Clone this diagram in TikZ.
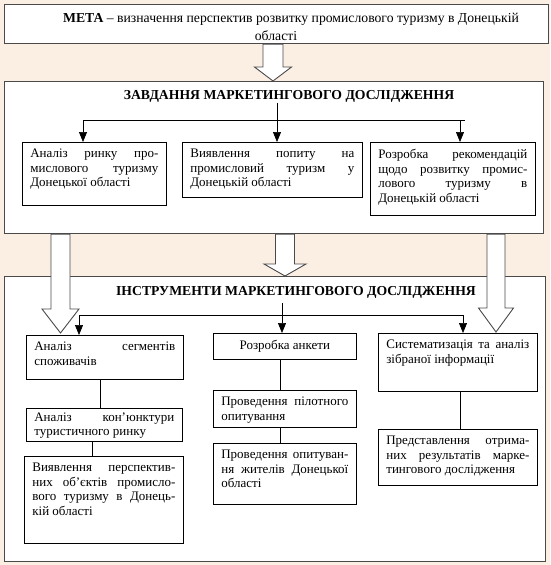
\documentclass[tikz,border=0pt]{standalone}
\usepackage{fontspec}
\setmainfont{Liberation Serif}
\usetikzlibrary{arrows.meta,calc}
\definecolor{bgc}{HTML}{FBEEE2}
\definecolor{framec}{HTML}{4A4A4A}
\newcommand\jl[1]{\makebox[\linewidth][s]{#1}\par}
\newcommand\lastl[1]{#1\par}
\newcommand\ibox[7][7]{\node[ibox, inner ysep=#1pt] (#2) at (#3,#4) {\parbox[t][\dimexpr#6pt-#1pt-#1pt\relax][t]{\dimexpr#5pt-16pt\relax}{\baselineskip=14.5pt #7}};}
\newcommand\barrow[7]{% x, from, to, headlen, shafthalf, headhalf, tipshift
  \draw[blockarr] let \p1=(#2), \p2=(#3) in
    (#1pt-#5pt,\y1) -- (#1pt-#5pt,\y2+#4pt+#7pt) -- (#1pt-#6pt,\y2+#4pt+#7pt) -- (#1pt,\y2+#7pt)
    -- (#1pt+#6pt,\y2+#4pt+#7pt) -- (#1pt+#5pt,\y2+#4pt+#7pt) -- (#1pt+#5pt,\y1) -- cycle;}
\begin{document}
\begin{tikzpicture}[x=1pt,y=-1pt,
  every node/.style={font=\fontsize{13}{14.5}\selectfont},
  obox/.style={draw=framec, fill=white, line width=1.2pt, inner sep=0pt, anchor=north west},
  ibox/.style={draw=black, fill=white, line width=0.7pt, anchor=north west, inner xsep=8pt},
  ttl/.style={font=\fontsize{13.7}{16}\selectfont\bfseries, inner sep=1pt},
  blockarr/.style={draw=framec, fill=white, line width=0.9pt, line join=miter},
  sarr/.style={-{Triangle[width=8pt,length=10pt]}, line width=0.7pt},
  ln/.style={line width=0.7pt}]
\fill[bgc] (0,0) rectangle (550,565);
\useasboundingbox (0,0) rectangle (550,565);
% outer boxes
\node[obox, minimum width=544pt, minimum height=39pt] (meta) at (4,4) {};
\node[align=center, inner sep=0pt, font=\fontsize{13.7}{18}\selectfont] (metat) at (276,26.5)
  {\hspace*{30pt}\textbf{МЕТА} – визначення перспектив розвитку промислового туризму в Донецькій\\ області};
\node[obox, minimum width=539pt, minimum height=152pt] (zav) at (4,81) {};
\node[ttl] (zavt) at (289,96) {ЗАВДАННЯ МАРКЕТИНГОВОГО ДОСЛІДЖЕННЯ};
\node[obox, minimum width=541pt, minimum height=285pt] (ins) at (4,276) {};
\node[ttl] (inst) at (296,292) {ІНСТРУМЕНТИ МАРКЕТИНГОВОГО ДОСЛІДЖЕННЯ};
% task boxes
\ibox{ta}{22}{142}{144}{63}{\jl{Аналіз ринку про-}\jl{мислового туризму}\lastl{Донецької області}}
\ibox{tb}{182}{142}{180}{55}{\jl{Виявлення попиту на}\jl{промисловий туризм у}\lastl{Донецькій області}}
\ibox{tc}{370}{142}{165}{73}{\jl{Розробка рекомендацій}\jl{щодо розвитку промис-}\jl{лового туризму в}\lastl{Донецькій області}}
% instrument boxes
\ibox{segm}{26}{335}{157}{44}{\jl{Аналіз сегментів}\lastl{споживачів}}
\ibox[4]{konj}{26}{408}{156}{33}{\jl{Аналіз кон’юнктури}\lastl{туристичного ринку}}
\ibox{vyav}{24}{456}{159}{87}{\jl{Виявлення перспектив-}\jl{них об’єктів промисло-}\jl{вого туризму в Донець-}\lastl{кій області}}
\ibox{ank}{213}{333}{143}{26}{{\centering Розробка анкети\par}}
\ibox{pilot}{213}{390}{143}{37}{\jl{Проведення пілотного}\lastl{опитування}}
\ibox{opyt}{213}{443}{143}{61}{\jl{Проведення опитуван-}\jl{ня жителів Донецької}\lastl{області}}
\ibox{syst}{378}{333}{159}{58}{\jl{Систематизація та аналіз}\lastl{зібраної інформації}}
\ibox{pred}{378}{429}{159}{56}{\jl{Представлення отрима-}\jl{них результатів марке-}\lastl{тингового дослідження}}
% block arrows
\barrow{273}{meta.south}{zav.north}{14}{10}{18.5}{0}
\barrow{60.5}{zav.south}{segm.north}{24}{9.5}{18.5}{2}
\barrow{285}{zav.south}{ins.north}{12}{9.5}{21}{0}
\barrow{496}{zav.south}{syst.north}{24}{9}{17.5}{1}
% small connectors, tasks
\coordinate (j2) at (277,120);
\coordinate (h2l) at (83,120);
\coordinate (h2r) at (465,120);
\coordinate (h2a) at (460,120);
\draw[sarr] (zavt.south -| j2) -- (j2 |- tb.north);
\draw[ln] (h2l) -- (h2r);
\draw[sarr] (h2l) -- (h2l |- ta.north);
\draw[sarr] (h2a) -- (h2a |- tc.north);
% small connectors, instruments
\coordinate (j3) at (282,315);
\coordinate (h3l) at (79,315);
\coordinate (h3r) at (463,315);
\draw[sarr] ([yshift=-4pt]inst.south -| j3) -- (j3 |- ank.north);
\draw[ln] (h3l) -- (h3r);
\draw[sarr] (h3l) -- (h3l |- segm.north);
\draw[sarr] (h3r) -- (h3r |- syst.north);
% vertical links
\coordinate (v1) at (100,0);
\coordinate (v2) at (92,0);
\coordinate (v3) at (280,0);
\coordinate (v4) at (460,0);
\draw[ln] (v1 |- segm.south) -- (v1 |- konj.north);
\draw[ln] (v2 |- konj.south) -- (v2 |- vyav.north);
\draw[ln] (v3 |- ank.south) -- (v3 |- pilot.north);
\draw[ln] (v3 |- pilot.south) -- (v3 |- opyt.north);
\draw[ln] (v4 |- syst.south) -- (v4 |- pred.north);
\end{tikzpicture}
\end{document}
